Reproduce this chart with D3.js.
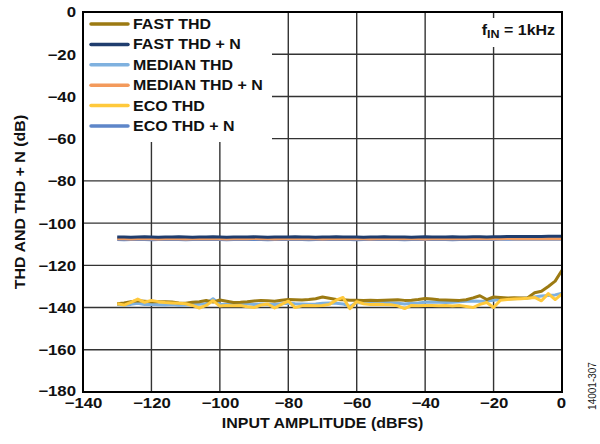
<!DOCTYPE html>
<html>
<head>
<meta charset="utf-8">
<script src="https://cdn.jsdelivr.net/npm/d3@7"></script>
<style>
  html, body { margin: 0; padding: 0; background: #fff; }
  svg { display: block; }
  text { font-family: "Liberation Sans", Arial, sans-serif; }
</style>
</head>
<body>
<script>
// ---------- DATA ----------
const inputAmplitude = [-130,-128,-126,-124,-122,-120,-118,-116,-114,-112,-110,-108,-106,-104,-102,-100,
  -98,-96,-94,-92,-90,-88,-86,-84,-82,-80,-78,-76,-74,-72,-70,-68,-66,-64,-62,-60,
  -58,-56,-54,-52,-50,-48,-46,-44,-42,-40,-38,-36,-34,-32,-30,-28,-26,-24,-22,-20,
  -18,-16,-14,-12,-10,-8,-6,-4,-2,0];

const fastTHD = [-138.2,-137.8,-137.2,-136.8,-137.0,-137.2,-137.3,-137.2,-137.4,-137.8,-138.0,-137.5,-137.2,-136.7,-137.4,-136.4,
  -137.0,-137.6,-137.5,-137.3,-136.9,-136.6,-136.8,-137.0,-136.5,-136.2,-136.3,-136.4,-136.2,-135.8,-135.0,-135.6,-136.2,-136.3,-136.5,-136.5,
  -136.6,-136.5,-136.6,-136.5,-136.4,-136.3,-136.6,-136.5,-136.2,-135.7,-136.0,-136.3,-136.4,-136.5,-136.6,-136.3,-135.4,-134.4,-136.2,-135.0,
  -135.2,-135.5,-135.4,-135.5,-135.3,-133.0,-132.3,-130.0,-127.5,-122.3];

const fastTHDN = [-106.6,-106.6,-106.7,-106.6,-106.5,-106.6,-106.7,-106.6,-106.6,-106.5,-106.6,-106.7,-106.6,-106.6,-106.5,-106.6,
  -106.7,-106.6,-106.6,-106.6,-106.5,-106.6,-106.7,-106.6,-106.6,-106.6,-106.5,-106.6,-106.6,-106.7,-106.6,-106.6,-106.5,-106.6,-106.6,-106.6,
  -106.7,-106.6,-106.6,-106.5,-106.6,-106.6,-106.6,-106.7,-106.6,-106.5,-106.6,-106.6,-106.6,-106.5,-106.6,-106.6,-106.5,-106.5,-106.6,-106.5,
  -106.5,-106.4,-106.4,-106.4,-106.3,-106.3,-106.3,-106.2,-106.2,-106.2];

const medianTHD = [-138.6,-138.9,-138.5,-138.0,-138.6,-138.4,-138.7,-138.8,-138.6,-138.9,-138.8,-138.6,-138.4,-138.2,-135.8,-138.5,
  -138.4,-138.6,-138.3,-138.2,-138.5,-138.3,-138.5,-138.6,-138.2,-138.0,-138.2,-138.3,-138.4,-138.3,-138.0,-137.9,-138.0,-138.3,-139.5,-137.6,
  -137.8,-138.0,-137.9,-137.6,-137.7,-138.0,-138.3,-138.0,-137.8,-137.5,-137.4,-137.5,-137.6,-137.5,-137.3,-137.0,-136.9,-137.0,-136.9,-136.5,
  -136.2,-136.0,-135.8,-135.6,-135.5,-135.0,-134.5,-134.3,-134.0,-133.2];

const medianTHDN = [-107.4,-107.4,-107.5,-107.4,-107.3,-107.4,-107.5,-107.4,-107.4,-107.4,-107.5,-107.4,-107.4,-107.3,-107.4,-107.4,
  -107.5,-107.4,-107.4,-107.4,-107.3,-107.4,-107.4,-107.5,-107.4,-107.4,-107.4,-107.3,-107.4,-107.4,-107.5,-107.4,-107.4,-107.4,-107.3,-107.4,
  -107.4,-107.5,-107.4,-107.4,-107.4,-107.3,-107.4,-107.4,-107.4,-107.5,-107.4,-107.4,-107.3,-107.4,-107.4,-107.4,-107.4,-107.3,-107.4,-107.4,
  -107.4,-107.3,-107.4,-107.4,-107.3,-107.4,-107.4,-107.3,-107.4,-107.4];

const ecoTHD = [-138.2,-138.8,-137.5,-136.0,-137.5,-136.6,-137.2,-137.6,-137.8,-138.0,-138.2,-139.0,-140.2,-139.0,-136.7,-139.3,
  -139.0,-139.2,-139.0,-139.6,-140.0,-138.8,-138.3,-140.2,-138.5,-137.0,-140.0,-139.2,-139.0,-139.2,-139.0,-138.5,-136.5,-135.2,-140.5,-137.2,
  -138.2,-138.6,-138.4,-138.6,-138.7,-139.2,-140.5,-139.0,-139.2,-139.0,-139.0,-139.2,-139.0,-139.3,-139.0,-139.5,-140.0,-138.5,-137.6,-140.0,
  -136.5,-136.2,-136.0,-135.8,-135.6,-135.2,-136.8,-133.4,-136.2,-133.5];

const ecoTHDN = [-107.8,-107.9,-107.8,-107.7,-107.8,-107.9,-107.8,-107.8,-107.7,-107.8,-107.9,-107.8,-107.8,-107.8,-107.7,-107.8,
  -107.9,-107.8,-107.8,-107.7,-107.8,-107.8,-107.9,-107.8,-107.8,-107.8,-107.7,-107.8,-107.9,-107.8,-107.8,-107.8,-107.7,-107.8,-107.8,-107.9,
  -107.8,-107.8,-107.7,-107.8,-107.8,-107.8,-107.9,-107.8,-107.8,-107.7,-107.8,-107.8,-107.8,-107.9,-107.8,-107.7,-107.8,-107.8,-107.7,-107.8,
  -107.7,-107.7,-107.7,-107.6,-107.7,-107.6,-107.6,-107.6,-107.6,-107.6];

const seriesNames = ["FAST THD", "FAST THD + N", "MEDIAN THD", "MEDIAN THD + N", "ECO THD", "ECO THD + N"];
const seriesColors = ["#9C7A12", "#1F3D6E", "#7FB1DF", "#F39A5C", "#FFC93C", "#5E86C9"];
const seriesValues = [fastTHD, fastTHDN, medianTHD, medianTHDN, ecoTHD, ecoTHDN];
const drawOrder = [5, 3, 1, 2, 0, 4];

const xTicks = [-140, -120, -100, -80, -60, -40, -20, 0];
const yTicks = [0, -20, -40, -60, -80, -100, -120, -140, -160, -180];
const xTitle = "INPUT AMPLITUDE (dBFS)";
const yTitle = "THD AND THD + N (dB)";
const figureId = "14001-307";

// ---------- LAYOUT ----------
const W = 600, H = 444;
const L = 83, R = 562, T = 12, B = 392;
const SX = 1.18; // horizontal stretch of the reference typography

const svg = d3.select("body").append("svg").attr("width", W).attr("height", H);

const x = d3.scaleLinear().domain([-140, 0]).range([L, R]);
const y = d3.scaleLinear().domain([-180, 0]).range([B, T]);

// grid
const grid = svg.append("g");
grid.selectAll("line.v").data(xTicks.filter(d => d > -140 && d < 0)).join("line")
  .attr("x1", d => x(d)).attr("x2", d => x(d)).attr("y1", T).attr("y2", B)
  .attr("stroke", "#333").attr("stroke-width", 1.4);
grid.selectAll("line.h").data(yTicks.filter(d => d < 0 && d > -180)).join("line")
  .attr("x1", L).attr("x2", R).attr("y1", d => y(d)).attr("y2", d => y(d))
  .attr("stroke", "#333").attr("stroke-width", 1.4);

// lines
const line = d3.line().x(d => x(d[0])).y(d => y(d[1]));
const plot = svg.append("g");
drawOrder.forEach(i => {
  const pts = inputAmplitude.map((a, k) => [a, seriesValues[i][k]]);
  plot.append("path").datum(pts).attr("d", line)
    .attr("fill", "none").attr("stroke", seriesColors[i])
    .attr("stroke-width", 3).attr("stroke-linejoin", "round");
});

// legend
const lg = svg.append("g");
lg.append("rect").attr("x", L).attr("y", T).attr("width", 189).attr("height", 130).attr("fill", "#fff");
seriesNames.forEach((name, i) => {
  const cy = 24 + i * 20.4;
  lg.append("line").attr("x1", 91).attr("x2", 128).attr("y1", cy).attr("y2", cy)
    .attr("stroke", seriesColors[i]).attr("stroke-width", 3.5).attr("stroke-linecap", "round");
  lg.append("text").attr("transform", `translate(133,${cy + 5}) scale(${SX - 0.04},1)`)
    .attr("font-size", 14).attr("font-weight", "bold").attr("fill", "#111").text(name);
});

// annotation
const an = svg.append("g");
an.append("rect").attr("x", 470).attr("y", 18).attr("width", 90).attr("height", 29).attr("fill", "#fff");
const at = an.append("text").attr("transform", `translate(555,35) scale(${SX - 0.04},1)`)
  .attr("text-anchor", "end").attr("font-size", 14).attr("font-weight", "bold").attr("fill", "#111");
at.append("tspan").text("f");
at.append("tspan").attr("font-size", 11).attr("dy", 3).text("IN");
at.append("tspan").attr("dy", -3).text(" = 1kHz");

// frame
svg.append("rect").attr("x", L).attr("y", T).attr("width", R - L).attr("height", B - T)
  .attr("fill", "none").attr("stroke", "#000").attr("stroke-width", 2);

// axes
const xAxis = svg.append("g").attr("transform", `translate(0,${B})`)
  .call(d3.axisBottom(x).tickValues(xTicks).tickSize(0).tickPadding(0).tickFormat(d => d3.format("")(d).replace("-", "\u2212")));
xAxis.select(".domain").remove();
xAxis.selectAll("text").attr("y", 0).attr("dy", 16)
  .attr("transform", `scale(${SX + 0.02},1)`)
  .attr("font-size", 14).attr("font-weight", "bold").attr("fill", "#111")
  .attr("font-family", "Liberation Sans, Arial, sans-serif");
xAxis.selectAll("text").filter(d => d === 0).attr("x", -1);

const yAxis = svg.append("g").attr("transform", `translate(${L},0)`)
  .call(d3.axisLeft(y).tickValues(yTicks).tickSize(0).tickPadding(0).tickFormat(d => d3.format("")(d).replace("-", "\u2212")));
yAxis.select(".domain").remove();
yAxis.selectAll("text").attr("x", -7 / (SX + 0.02)).attr("dy", "0.35em")
  .attr("transform", `scale(${SX + 0.02},1)`)
  .attr("font-size", 14).attr("font-weight", "bold").attr("fill", "#111")
  .attr("font-family", "Liberation Sans, Arial, sans-serif");
yAxis.selectAll("text").filter(d => d === -180).attr("dy", "0.25em");

// titles
svg.append("text").attr("transform", `translate(${(L + R) / 2},428) scale(${SX - 0.04},1)`)
  .attr("text-anchor", "middle").attr("font-size", 14).attr("font-weight", "bold").attr("fill", "#111").text(xTitle);
svg.append("text").attr("transform", `translate(25,${(T + B) / 2}) rotate(-90) scale(${SX - 0.04},1)`)
  .attr("text-anchor", "middle").attr("font-size", 14).attr("font-weight", "bold").attr("fill", "#111").text(yTitle);
svg.append("text").attr("transform", `translate(596,386) rotate(-90)`)
  .attr("text-anchor", "middle").attr("font-size", 10).attr("fill", "#222").text(figureId);
</script>
</body>
</html>
